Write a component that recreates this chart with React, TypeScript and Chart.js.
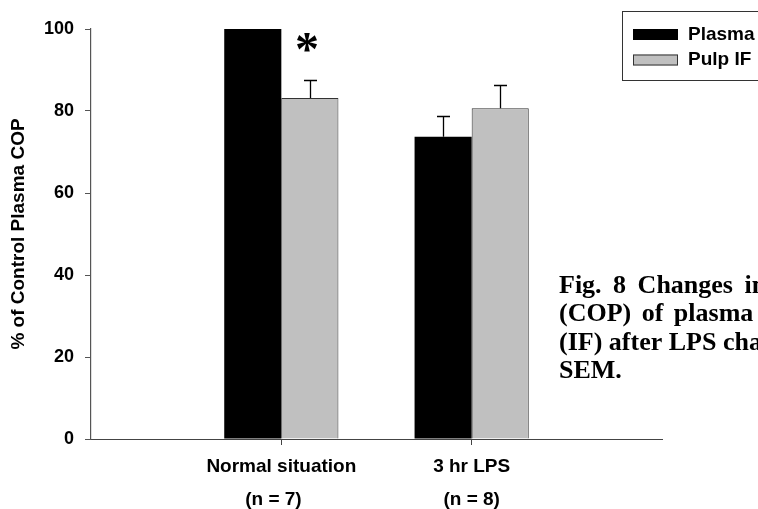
import React, { useEffect, useRef } from 'react';
import { Chart, registerables } from 'chart.js';

Chart.register(...registerables);

const categories: (string | string[])[] = ['', ['Normal situation', '(n = 7)   '], ['3 hr LPS', '(n = 8)'], ''];
const seriesNames = ['Plasma', 'Pulp IF'];
const plasmaValues = [null, 100, 73.7, null];
const pulpValues = [null, 83.2, 80.7, null];
const plasmaSem = [null, null, 5.2, null];
const pulpSem = [null, 4.4, 5.6, null];
const yTicks = [0, 20, 40, 60, 80, 100];
const yTitle = '% of Control Plasma COP';
const significanceMark = '*';
const captionLines = [
  'Fig. 8 Changes in colloid osmotic',
  '(COP) of plasma and pulp',
  '(IF) after LPS challenge. Mean ±',
  'SEM.',
];

const SANS = '"Liberation Sans", Arial, sans-serif';
const SERIF = '"Liberation Serif", "Times New Roman", serif';

const overlayPlugin = {
  id: 'overlay',
  afterDatasetsDraw(chart: any) {
    const ctx = chart.ctx;
    const yScale = chart.scales.y;
    const sems = [plasmaSem, pulpSem];
    ctx.save();
    ctx.strokeStyle = '#000';
    ctx.lineWidth = 1.3;
    chart.data.datasets.forEach((ds: any, di: number) => {
      const meta = chart.getDatasetMeta(di);
      ds.data.forEach((v: number | null, i: number) => {
        const s = sems[di][i];
        if (v == null || s == null) return;
        const bar = meta.data[i];
        const x = Math.round(bar.x) + 0.5;
        const yb = bar.y;
        const yt = Math.round(yScale.getPixelForValue(v + s)) + 0.5;
        ctx.beginPath();
        ctx.moveTo(x, yb);
        ctx.lineTo(x, yt);
        ctx.moveTo(x - 6.5, yt);
        ctx.lineTo(x + 6.5, yt);
        ctx.stroke();
      });
    });
    ctx.restore();
  },
  afterDraw(chart: any) {
    const ctx = chart.ctx;
    const yScale = chart.scales.y;
    ctx.save();
    // significance mark
    const pulpMeta = chart.getDatasetMeta(1);
    const sx = pulpMeta.data[1].x - 3;
    ctx.fillStyle = '#000';
    ctx.font = `bold 48px ${SERIF}`;
    ctx.textAlign = 'center';
    ctx.textBaseline = 'alphabetic';
    ctx.fillText(significanceMark, sx, yScale.getPixelForValue(100) + 36);

    // legend
    ctx.strokeStyle = '#333';
    ctx.lineWidth = 1;
    ctx.strokeRect(622.5, 11.5, 200, 69);
    chart.data.datasets.forEach((ds: any, i: number) => {
      const ry = 29 + i * 25.5;
      ctx.fillStyle = ds.backgroundColor;
      ctx.fillRect(633, ry, 45, 11);
      ctx.strokeStyle = i === 0 ? '#000' : '#333';
      ctx.strokeRect(633.5, ry + 0.5, 44, 10);
      ctx.fillStyle = '#000';
      ctx.font = `bold 19px ${SANS}`;
      ctx.textAlign = 'left';
      ctx.textBaseline = 'middle';
      ctx.fillText(ds.label, 688, ry + 5.5);
    });

    // caption
    ctx.fillStyle = '#000';
    ctx.font = `bold 26px ${SERIF}`;
    ctx.textAlign = 'left';
    ctx.textBaseline = 'alphabetic';
    const spacings = ['5px', '4px', '0px', '0px'];
    captionLines.forEach((line, i) => {
      (ctx as any).wordSpacing = spacings[i];
      ctx.fillText(line, 559, 293 + i * 28.4);
    });
    (ctx as any).wordSpacing = '0px';
    ctx.restore();
  },
};

export default function App() {
  const ref = useRef<HTMLCanvasElement>(null);
  useEffect(() => {
    document.body.style.margin = '0';
    const canvas = ref.current!;
    const chart = new Chart(canvas, {
      type: 'bar',
      data: {
        labels: categories as any,
        datasets: [
          {
            label: seriesNames[0],
            data: plasmaValues as any,
            backgroundColor: '#000000',
            borderColor: '#000000',
            borderWidth: 0,
            categoryPercentage: 0.6,
            barPercentage: 1,
          },
          {
            label: seriesNames[1],
            data: pulpValues as any,
            backgroundColor: '#c0c0c0',
            borderColor: '#333333',
            borderWidth: 1,
            categoryPercentage: 0.6,
            barPercentage: 1,
          },
        ],
      },
      options: {
        responsive: false,
        maintainAspectRatio: false,
        animation: false,
        layout: { padding: { left: 0, top: 29, right: 96, bottom: 0 } },
        plugins: {
          legend: { display: false },
          tooltip: { enabled: false },
          title: { display: false },
        },
        scales: {
          x: {
            type: 'category',
            offset: false,
            grid: {
              display: true,
              offset: false,
              drawOnChartArea: false,
              drawTicks: true,
              tickLength: 6,
              color: (c: any) => (c.index === 1 || c.index === 2 ? '#444' : 'rgba(0,0,0,0)'),
            },
            border: { display: true, color: '#444', width: 1 },
            ticks: {
              color: '#000',
              font: { family: SANS, size: 19, weight: 'bold', lineHeight: 33 / 19 },
              padding: 5,
              maxRotation: 0,
              autoSkip: false,
            },
            afterFit: (s: any) => {
              s.height = 70;
            },
          },
          y: {
            min: 0,
            max: 100,
            grid: {
              display: true,
              drawOnChartArea: false,
              drawTicks: true,
              tickLength: 6,
              color: '#555',
            },
            border: { display: true, color: '#555', width: 1.2 },
            ticks: {
              color: '#000',
              font: { family: SANS, size: 18, weight: 'bold' },
              padding: 11,
            },
            afterBuildTicks: (s: any) => {
              s.ticks = yTicks.map((v) => ({ value: v }));
            },
            title: {
              display: true,
              text: yTitle,
              color: '#000',
              font: { family: SANS, size: 19, weight: 'bold' },
              padding: { top: 7, bottom: 0 },
            },
            afterFit: (s: any) => {
              s.width = 91;
            },
          },
        },
      } as any,
      plugins: [overlayPlugin],
    });
    return () => chart.destroy();
  }, []);
  return <canvas ref={ref} width={758} height={509} style={{ display: 'block', width: 758, height: 509 }} />;
}
